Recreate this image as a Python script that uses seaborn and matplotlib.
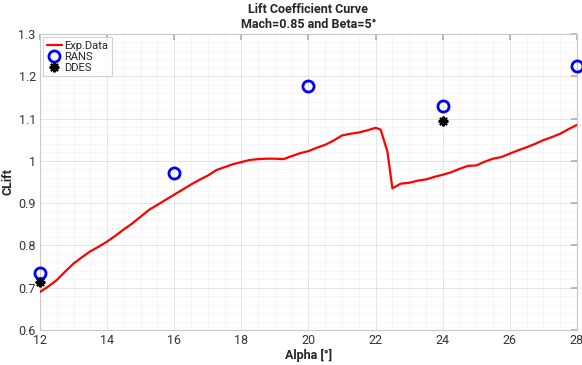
import matplotlib
matplotlib.use('Agg')
import matplotlib.pyplot as plt
from matplotlib.ticker import MultipleLocator, FuncFormatter
import seaborn as sns
import pandas as pd

alpha_exp = [12.0, 12.25, 12.5, 12.75, 13.0, 13.25, 13.5, 13.75, 14.0, 14.25,
             14.5, 14.75, 15.0, 15.25, 15.5, 15.75, 16.0, 16.25, 16.5, 16.75,
             17.0, 17.25, 17.5, 17.75, 18.0, 18.25, 18.5, 18.75, 19.0, 19.25,
             19.5, 19.75, 20.0, 20.25, 20.5, 20.75, 21.0, 21.25, 21.5, 21.75,
             22.0, 22.15, 22.35, 22.5, 22.75, 23.0, 23.25, 23.5, 23.75, 24.0,
             24.25, 24.5, 24.75, 25.0, 25.25, 25.5, 25.75, 26.0, 26.25, 26.5,
             26.75, 27.0, 27.25, 27.5, 27.75, 28.0]
cl_exp = [0.690, 0.703, 0.718, 0.738, 0.757, 0.772, 0.786, 0.797, 0.809, 0.823,
          0.838, 0.852, 0.868, 0.884, 0.896, 0.908, 0.920, 0.932, 0.944, 0.955,
          0.965, 0.978, 0.985, 0.992, 0.997, 1.002, 1.004, 1.005, 1.005, 1.004,
          1.011, 1.018, 1.023, 1.031, 1.038, 1.048, 1.060, 1.064, 1.067, 1.072,
          1.078, 1.074, 1.022, 0.935, 0.946, 0.948, 0.953, 0.956, 0.962, 0.967,
          0.973, 0.981, 0.988, 0.989, 0.998, 1.005, 1.009, 1.017, 1.025, 1.032,
          1.040, 1.049, 1.056, 1.064, 1.075, 1.085]

alpha_rans = [12, 16, 20, 24, 28]
cl_rans = [0.735, 0.970, 1.177, 1.130, 1.224]

alpha_ddes = [12, 24]
cl_ddes = [0.713, 1.093]

sns.set_theme(style='whitegrid')
plt.rcParams['font.family'] = ['Roboto', 'DejaVu Sans']

fig = plt.figure(figsize=(5.82, 3.65), dpi=100)
ax = fig.add_axes([0.0687, 0.096, 0.9227, 0.811])

df_exp = pd.DataFrame({'alpha': alpha_exp, 'cl': cl_exp})
sns.lineplot(data=df_exp, x='alpha', y='cl', color='#ff0000', linewidth=1.6,
             label='Exp.Data', ax=ax, zorder=3)
ax.plot(alpha_rans, cl_rans, linestyle='none', marker='o', markersize=8,
        markerfacecolor='none', markeredgecolor='#0000ff', markeredgewidth=2,
        label='RANS', clip_on=False, zorder=4)
ax.plot(alpha_ddes, cl_ddes, linestyle='none', marker=(8, 2, 0), markersize=7,
        color='black', markeredgewidth=1.5, label='DDES', clip_on=False, zorder=4)

ax.set_xlim(12, 28)
ax.set_ylim(0.6, 1.3)
ax.xaxis.set_major_locator(MultipleLocator(2))
ax.xaxis.set_minor_locator(MultipleLocator(0.5))
ax.yaxis.set_major_locator(MultipleLocator(0.1))
ax.yaxis.set_minor_locator(MultipleLocator(0.02))
ax.yaxis.set_major_formatter(FuncFormatter(lambda v, p: '%g' % round(v, 2)))

ax.grid(True, which='major', color='#e4e4e4', linewidth=0.7)
ax.grid(True, which='minor', color='#f4f4f4', linewidth=0.6)
ax.set_axisbelow(True)

for s in ax.spines.values():
    s.set_color('#c8c8c8')
    s.set_linewidth(0.8)
ax.tick_params(which='both', direction='in', top=True, right=True,
               color='#b0b0b0', labelsize=9, labelcolor='#333333', pad=3)
ax.tick_params(which='major', length=4)
ax.tick_params(which='minor', length=0)

ax.set_title('Lift Coefficient Curve\nMach=0.85 and Beta=5°', fontsize=9,
             fontweight='bold', linespacing=1.25, pad=4)
ax.set_xlabel('Alpha [°]', fontsize=9, fontweight='bold', labelpad=1)
ax.set_ylabel('CLift', fontsize=9, fontweight='bold', labelpad=3)

leg = ax.legend(loc='upper left', fontsize=8, frameon=True, fancybox=False,
                borderpad=0.3, handlelength=1.4, handletextpad=0.2,
                labelspacing=0.1, borderaxespad=0.3)
leg.get_frame().set_edgecolor('#c8c8c8')
leg.get_frame().set_linewidth(0.8)

fig.savefig('out.png', dpi=100)
